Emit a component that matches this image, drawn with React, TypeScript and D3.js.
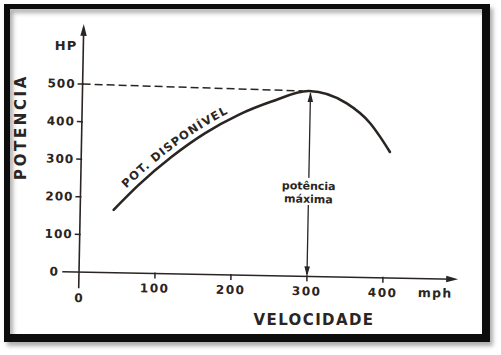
import React from "react";
import * as d3 from "d3";

const speedData = [44, 76, 119, 162, 206, 249, 298, 348, 379, 393, 406];
const powerData = [167, 234, 311, 375, 426, 463, 493, 462, 411, 374, 335];
const xTicks = [100, 200, 300, 400];
const yTicks = [0, 100, 200, 300, 400, 500];
const maxSpeed = 300;
const maxPower = 493;

const INK = "#2a2522";
const FONT = "'DejaVu Sans', sans-serif";

export default function App() {
  const W = 501, H = 355;
  const ox = 79, oy = 272, rot = 1.1;
  const x = d3.scaleLinear().domain([0, 400]).range([0, 304]);
  const y = d3.scaleLinear().domain([0, 500]).range([0, -188]);

  const pts: [number, number][] = speedData.map((s, i) => [s, powerData[i]]);
  const line = d3.line<[number, number]>()
    .x(d => x(d[0]))
    .y(d => y(d[1]))
    .curve(d3.curveMonotoneX);
  const curveD = line(pts) || "";

  const ax = x(maxSpeed);
  const yTop = y(660);
  const xEnd = x(499);

  return (
    <svg width={W} height={H} style={{ position: "absolute", left: 0, top: 0, background: "#fff" }}>
      <defs>
        <filter id="sh" x="-5%" y="-5%" width="115%" height="115%">
          <feDropShadow dx="3" dy="4" stdDeviation="2" floodColor="#777" floodOpacity="0.6" />
        </filter>
      </defs>
      <rect x={0} y={0} width={W} height={H} fill="#fff" />
      <path
        d={`M4,4H490V342H4Z M10,9V334H482V9Z`}
        fill="#0b0b0b"
        fillRule="evenodd"
        filter="url(#sh)"
      />
      <g transform={`translate(${ox},${oy}) rotate(${rot})`} fill={INK} fontFamily={FONT} fontWeight="bold">
        {/* y axis */}
        <line x1={0} y1={y(-43)} x2={0} y2={yTop + 4} stroke={INK} strokeWidth={1.6} />
        <path d={`M0,${yTop} L-3.2,${yTop + 12} L3.2,${yTop + 12} Z`} fill={INK} />
        {/* x axis */}
        <line x1={x(-22)} y1={0} x2={xEnd - 4} y2={0} stroke={INK} strokeWidth={1.6} />
        <path d={`M${xEnd},0 L${xEnd - 12},-3.2 L${xEnd - 12},3.2 Z`} fill={INK} />
        {/* y ticks */}
        {yTicks.filter(t => t > 0).map(t => (
          <g key={"yt" + t}>
            <line x1={-5} x2={1} y1={y(t)} y2={y(t)} stroke={INK} strokeWidth={1.5} />
            <text x={-7} y={y(t)} textAnchor="end" dominantBaseline="central" fontSize={12} letterSpacing={1}>{t}</text>
          </g>
        ))}
        <text x={-21} y={y(0)} textAnchor="end" dominantBaseline="central" fontSize={12}>0</text>
        {/* x ticks */}
        {xTicks.map(t => (
          <g key={"xt" + t}>
            <line x1={x(t)} x2={x(t)} y1={-1} y2={5} stroke={INK} strokeWidth={1.5} />
            <text x={x(t)} y={15} textAnchor="middle" dominantBaseline="central" fontSize={12} letterSpacing={1.5}>{t}</text>
          </g>
        ))}
        <text x={0} y={26} textAnchor="middle" dominantBaseline="central" fontSize={12}>0</text>
        <text x={x(469)} y={14} textAnchor="middle" dominantBaseline="central" fontSize={12.5} letterSpacing={1.2}>mph</text>
        {/* dashed reference */}
        <line x1={0} y1={y(500)} x2={x(290)} y2={y(maxPower)} stroke={INK} strokeWidth={1.5} strokeDasharray="8 4" />
        {/* curve */}
        <path id="potCurve" d={curveD} fill="none" stroke={INK} strokeWidth={2.6} strokeLinecap="round" />
        <text fontSize={11.5} letterSpacing={1}>
          <textPath href="#potCurve" startOffset={24}>
            <tspan dy={-6}>POT. DISPONÍVEL</tspan>
          </textPath>
        </text>
        {/* max power arrow */}
        <line x1={ax} x2={ax} y1={y(maxPower) + 2} y2={y(262)} stroke={INK} strokeWidth={1.3} />
        <line x1={ax} x2={ax} y1={y(190)} y2={-2} stroke={INK} strokeWidth={1.3} />
        <path d={`M${ax},${y(maxPower) + 1} L${ax - 2.8},${y(maxPower) + 11} L${ax + 2.8},${y(maxPower) + 11} Z`} fill={INK} />
        <path d={`M${ax},0 L${ax - 2.8},-10 L${ax + 2.8},-10 Z`} fill={INK} />
        <text x={ax} y={y(240)} textAnchor="middle" dominantBaseline="central" fontSize={11}>potência</text>
        <text x={ax} y={y(205)} textAnchor="middle" dominantBaseline="central" fontSize={11}>máxima</text>
      </g>
      <g fill={INK} fontFamily={FONT} fontWeight="bold">
        <text x={66} y={45} textAnchor="middle" dominantBaseline="central" fontSize={13} letterSpacing={1}>HP</text>
        <text x={314} y={320} textAnchor="middle" dominantBaseline="central" fontSize={15} letterSpacing={1.4}>VELOCIDADE</text>
        <text transform="translate(21,127) rotate(-90)" textAnchor="middle" dominantBaseline="central" fontSize={15} letterSpacing={2.6}>POTENCIA</text>
      </g>
    </svg>
  );
}
